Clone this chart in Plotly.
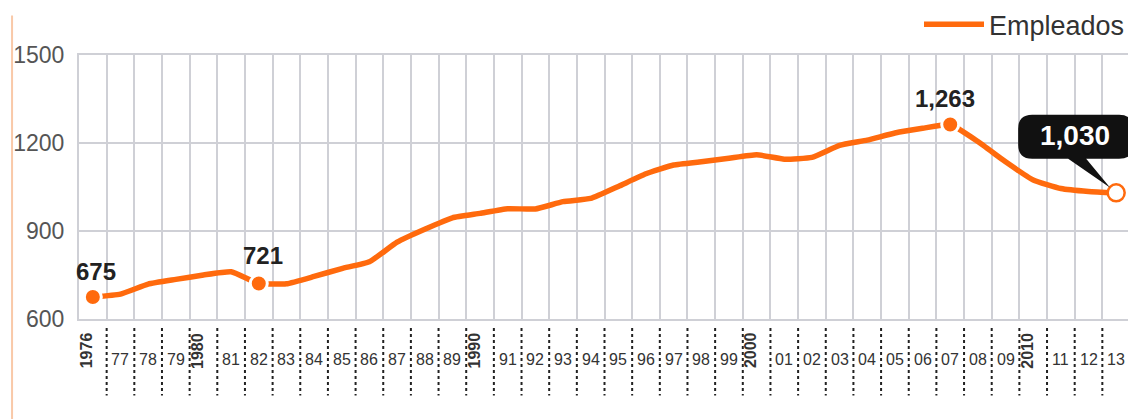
import plotly.graph_objects as go

years = list(range(1976, 2014))
empleados = [675, 685, 719, 735, 750, 761, 721, 720, 745, 772, 795, 862, 906,
             945, 960, 976, 975, 1000, 1011, 1052, 1095, 1125, 1136, 1148, 1160,
             1145, 1151, 1192, 1210, 1234, 1250, 1263, 1205, 1136, 1074, 1045,
             1035, 1030]
x_labels = ["1976", "77", "78", "79", "1980", "81", "82", "83", "84", "85", "86",
            "87", "88", "89", "1990", "91", "92", "93", "94", "95", "96", "97",
            "98", "99", "2000", "01", "02", "03", "04", "05", "06", "07", "08",
            "09", "2010", "11", "12", "13"]
y_ticks = [600, 900, 1200, 1500]
highlight_years = [1976, 1982, 2007]
highlight_labels = ["675", "721", "1,263"]
last_label = "1,030"
series_name = "Empleados"

ORANGE = "#ff6a0d"
GRID = "#cfd0d6"
FONT = "Liberation Sans, Arial"

fig = go.Figure()
fig.add_trace(go.Scatter(
    x=years, y=empleados, mode="lines", name=series_name,
    line=dict(color=ORANGE, width=5.5, shape="spline", smoothing=0.4),
))
hy = [empleados[years.index(y)] for y in highlight_years]
fig.add_trace(go.Scatter(
    x=highlight_years, y=hy, mode="markers", showlegend=False,
    marker=dict(size=17, color=ORANGE, line=dict(color="white", width=3)),
))
fig.add_trace(go.Scatter(
    x=[years[-1]], y=[empleados[-1]], mode="markers", showlegend=False,
    marker=dict(size=17, color="white", line=dict(color=ORANGE, width=2.5)),
))

# point labels
shifts = {1976: (3, 26), 1982: (4, 28), 2007: (-5, 26)}
for yr, val, lab in zip(highlight_years, hy, highlight_labels):
    dx, dy = shifts[yr]
    fig.add_annotation(x=yr, y=val, text="<b>" + lab + "</b>", showarrow=False,
                       xshift=dx, yshift=dy,
                       font=dict(size=24, color="#222", family=FONT))

# callout bubble for last value
fig.add_shape(type="path", xref="x", yref="y", xsizemode="pixel", ysizemode="pixel",
              xanchor=years[-1], yanchor=empleados[-1],
              path=("M -6 5 L -30 34 L -84 34 Q -98 34 -98 48 L -98 64 Q -98 78 -84 78 "
                    "L 3 78 Q 17 78 17 64 L 17 48 Q 17 34 3 34 L -48 34 Z"),
              fillcolor="#111", line=dict(width=0))
fig.add_annotation(x=years[-1], y=empleados[-1], text="<b>" + last_label + "</b>",
                   showarrow=False, xshift=-41, yshift=57,
                   font=dict(size=28, color="white", family=FONT))

# x labels
for yr, lab in zip(years, x_labels):
    if len(lab) == 4:
        fig.add_annotation(x=yr, y=-0.195, yref="paper", text="<b>" + lab + "</b>",
                           showarrow=False, textangle=-90, xshift=-6,
                           font=dict(size=16, color="#333", family=FONT))
    else:
        fig.add_annotation(x=yr, y=-0.195, yref="paper", text=lab, showarrow=False,
                           font=dict(size=16, color="#333", family=FONT))

# dotted separators under the axis
for yr in years[:-1]:
    fig.add_shape(type="line", xref="x", yref="paper", x0=yr + 0.5, x1=yr + 0.5,
                  y0=-0.034, y1=-0.29, line=dict(color="#222", width=2, dash="dot"))

# decorative left bar
fig.add_shape(type="line", xref="paper", yref="paper", x0=-0.0637, x1=-0.0637,
              y0=1.15, y1=-0.4, line=dict(color="#f9c9a8", width=2))

# the page body keeps an 8px margin, so the figure is sized to fit the window
fig.update_layout(
    width=1128, height=411,
    margin=dict(l=71, r=6, t=47, b=100, autoexpand=False),
    paper_bgcolor="white", plot_bgcolor="white",
    showlegend=True,
    legend=dict(x=1.0, xanchor="right", y=1.115, yanchor="middle",
                font=dict(size=27, color="#333", family=FONT),
                bgcolor="rgba(0,0,0,0)", itemwidth=60),
    xaxis=dict(range=[1975.5, 2013.5], tick0=1975.5, dtick=1, tickmode="linear",
               showticklabels=False, showgrid=True, gridcolor=GRID, gridwidth=2,
               showline=True, linecolor=GRID, linewidth=2, mirror=True, zeroline=False,
               ticks=""),
    yaxis=dict(range=[600, 1500], tickvals=y_ticks, showgrid=True, gridcolor=GRID,
               gridwidth=2, showline=True, linecolor=GRID, linewidth=2, mirror=True,
               zeroline=False, ticks="", ticklabelstandoff=8,
               tickfont=dict(size=23, color="#555", family=FONT)),
)

fig.write_html("out.html")
